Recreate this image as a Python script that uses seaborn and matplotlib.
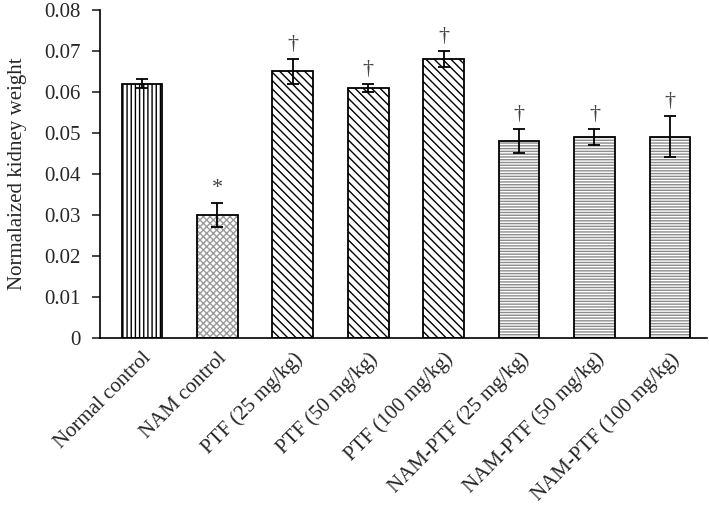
import matplotlib
matplotlib.use('Agg')
import matplotlib.pyplot as plt
from matplotlib.patches import Rectangle
import seaborn as sns
import pandas as pd

sns.set_style('white')
plt.rcParams['font.family'] = ['Liberation Serif', 'DejaVu Serif']
plt.rcParams['hatch.linewidth'] = 1.0

groups = ['Normal control', 'NAM control', 'PTF (25 mg/kg)', 'PTF (50 mg/kg)',
          'PTF (100 mg/kg)', 'NAM-PTF (25 mg/kg)', 'NAM-PTF (50 mg/kg)',
          'NAM-PTF (100 mg/kg)']
means = [0.062, 0.030, 0.065, 0.061, 0.068, 0.048, 0.049, 0.049]
errors = [0.001, 0.003, 0.003, 0.001, 0.002, 0.003, 0.002, 0.005]
marks = ['', '*', '\u2020', '\u2020', '\u2020', '\u2020', '\u2020', '\u2020']

hatches = ['||||', 'xxxxx', '\\\\\\\\', '\\\\\\\\', '\\\\\\\\', '------', '------', '------']
hatch_colors = ['black', '#9a9a9a', 'black', 'black', 'black', '#8c8c8c', '#8c8c8c', '#8c8c8c']

df = pd.DataFrame({'group': groups, 'value': means})

fig = plt.figure(figsize=(7.09, 5.15), dpi=100)
ax = fig.add_axes([0.141, 0.344, 0.856, 0.637])

sns.barplot(data=df, x='group', y='value', color='white', width=0.54,
            edgecolor='black', linewidth=0, errorbar=None, ax=ax)

# hatch follows edge colour, so draw the outline as a separate box
for patch, h, hc in list(zip(ax.patches, hatches, hatch_colors)):
    patch.set_hatch(h)
    patch.set_edgecolor(hc)
    patch.set_linewidth(0)
    ax.add_patch(Rectangle((patch.get_x(), patch.get_y()), patch.get_width(),
                           patch.get_height(), fill=False, edgecolor='black',
                           linewidth=1.3, zorder=patch.get_zorder() + 0.1))

xs = range(len(groups))
ax.errorbar(list(xs), means, yerr=errors, fmt='none', ecolor='black',
            elinewidth=1.3, capsize=4.5, capthick=1.3, zorder=5)

for x, m, e, s in zip(xs, means, errors, marks):
    if s:
        ax.text(x, m + e + 0.0012, s, ha='center', va='bottom', fontsize=16,
                color='#444444')

ax.set_ylim(0, 0.08)
ax.set_xlim(-0.557, 7.49)
ax.set_yticks([0, 0.01, 0.02, 0.03, 0.04, 0.05, 0.06, 0.07, 0.08])
ax.set_yticklabels(['0', '0.01', '0.02', '0.03', '0.04', '0.05', '0.06', '0.07', '0.08'])
ax.set_xlabel('')
ax.set_ylabel('Normalaized kidney weight', fontsize=15, labelpad=12)
ax.tick_params(axis='y', length=6, width=1.2, direction='out', labelsize=15, left=True, pad=8)
ax.tick_params(axis='x', length=0, labelsize=15, pad=8)
plt.setp(ax.get_xticklabels(), rotation=45, ha='right', rotation_mode='anchor')

sns.despine(ax=ax)
for sp in ['left', 'bottom']:
    ax.spines[sp].set_color('black')
    ax.spines[sp].set_linewidth(1.2)

fig.savefig('out.png', dpi=100)
